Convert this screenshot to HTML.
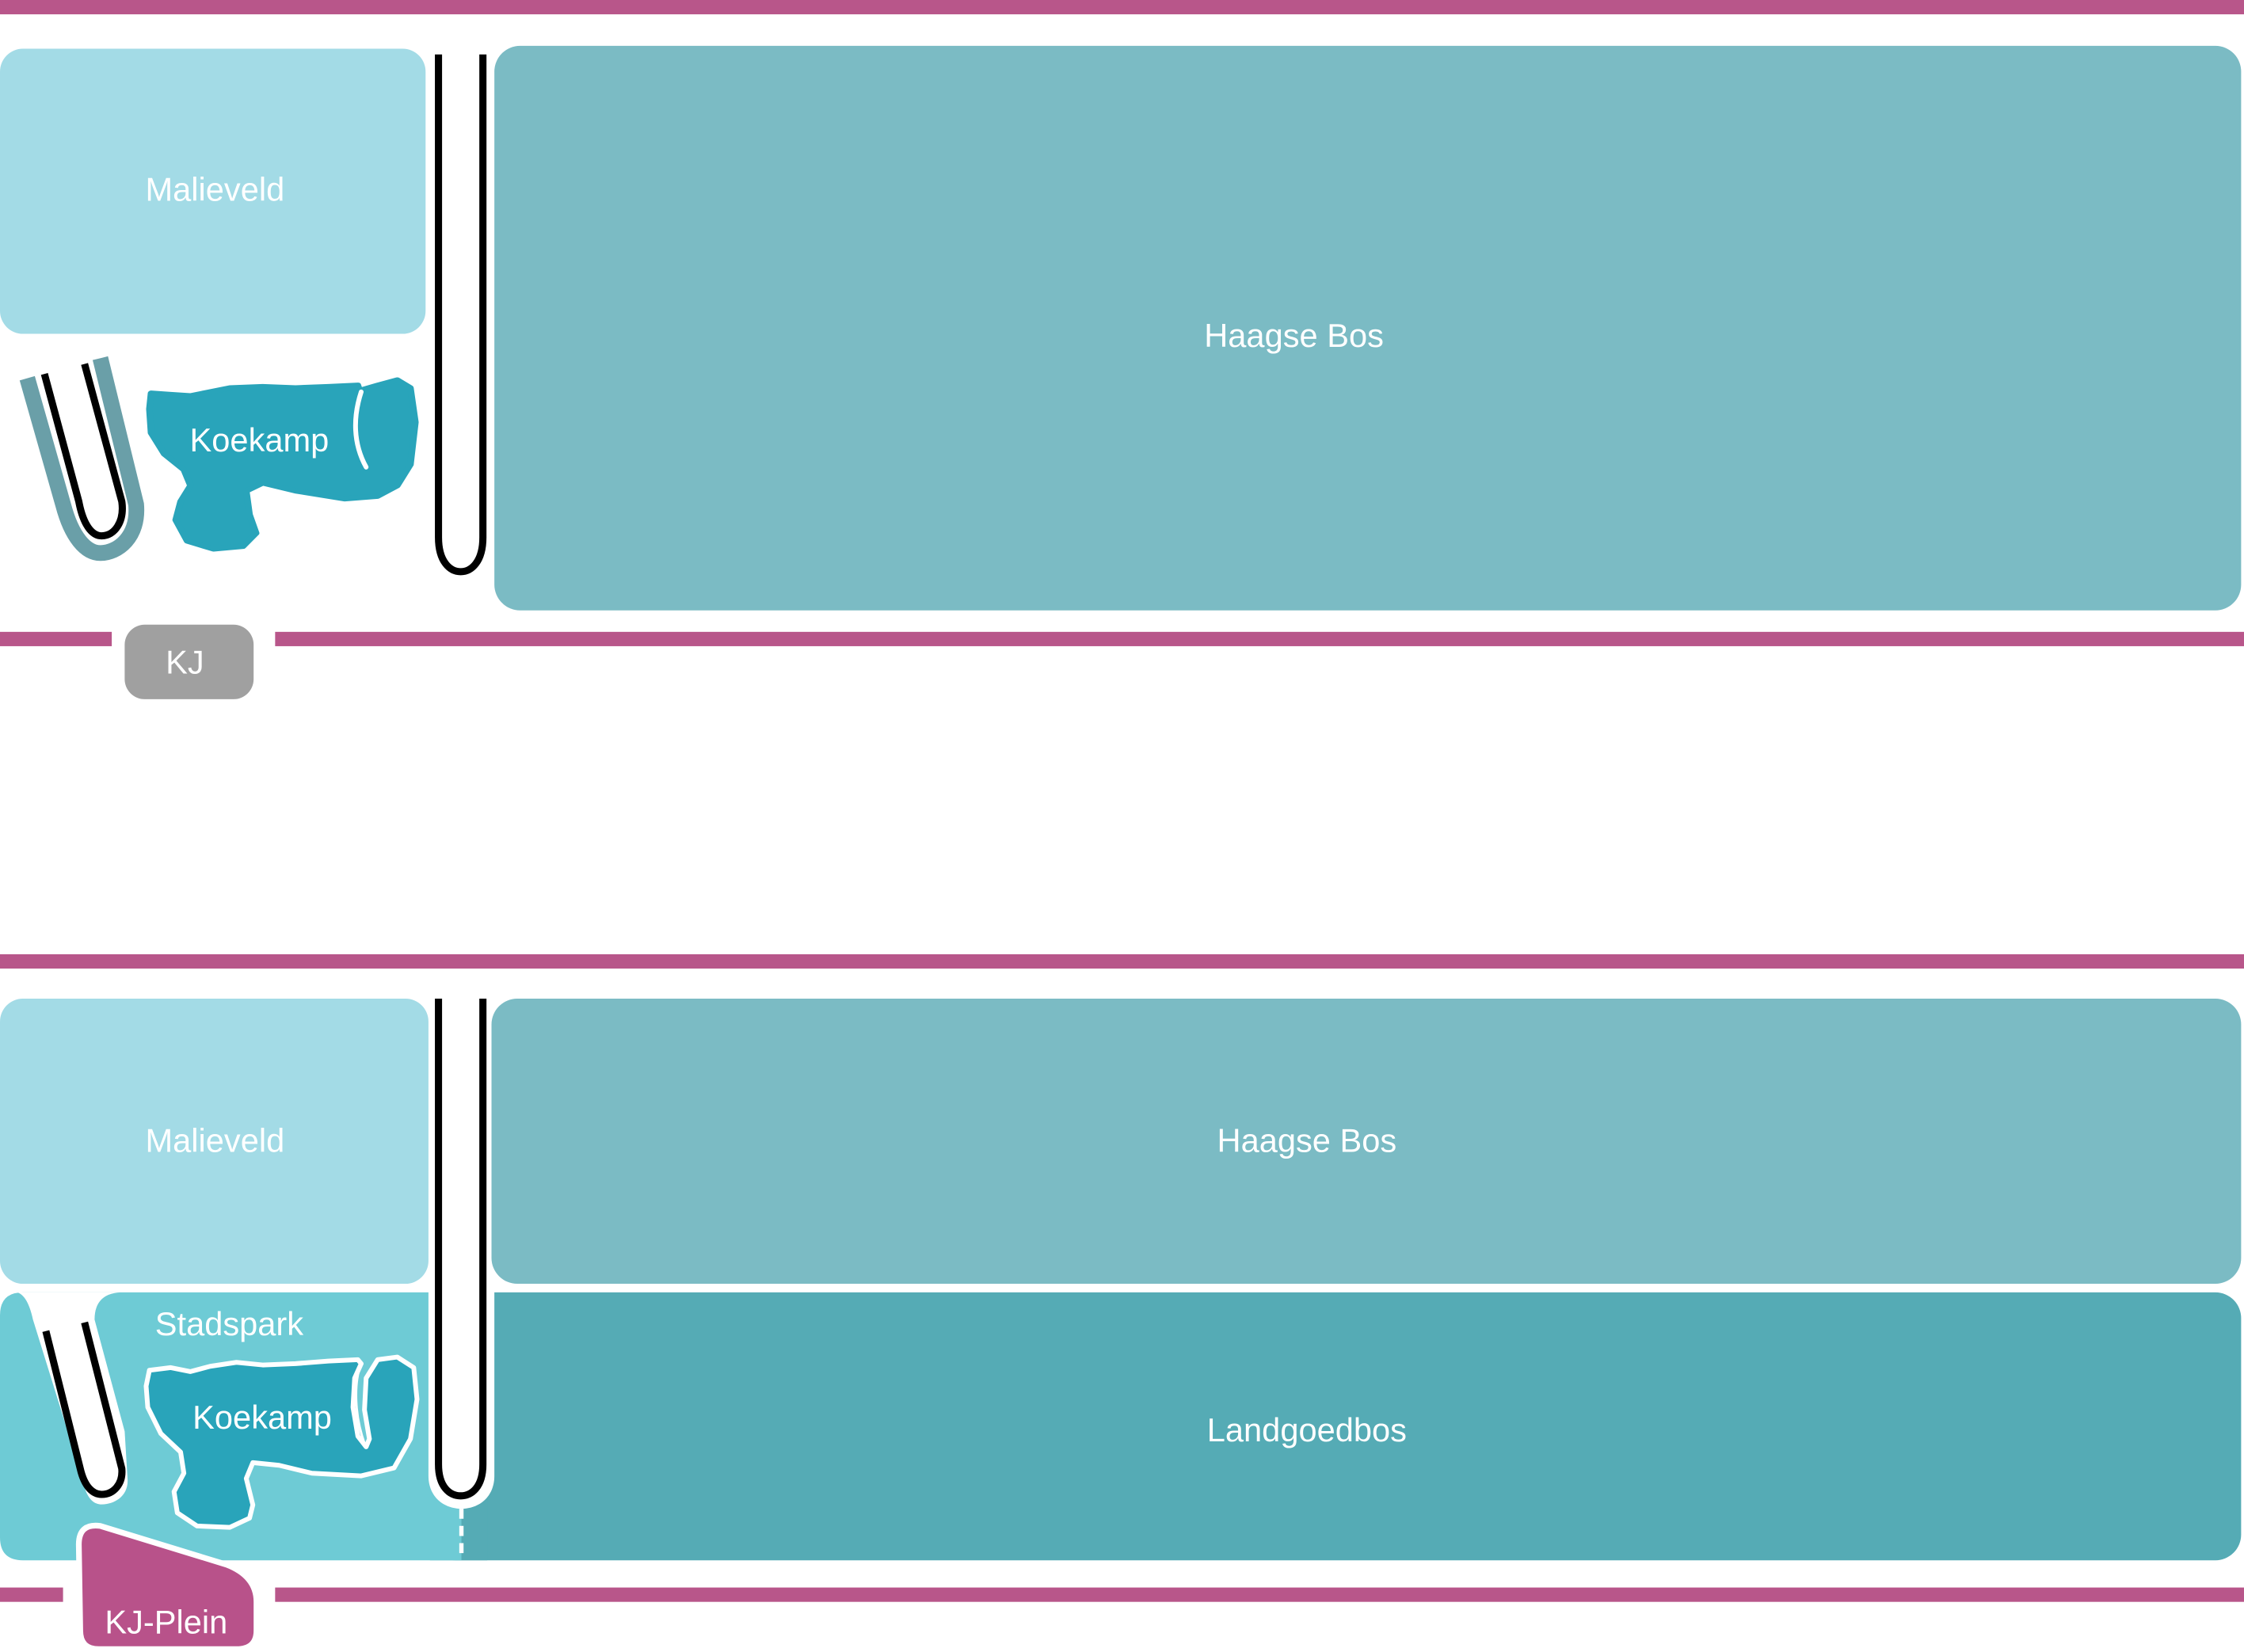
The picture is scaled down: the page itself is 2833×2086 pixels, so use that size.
<!DOCTYPE html>
<html><head><meta charset="utf-8"><style>
html,body{margin:0;padding:0;background:#fff;}
svg{display:block;}
text{font-family:"Liberation Sans",Arial,sans-serif;fill:#fff;text-anchor:middle;dominant-baseline:central;font-size:23px;}
</style></head><body>
<svg width="2833" height="2086" viewBox="0 0 1566 1153" preserveAspectRatio="none" xmlns="http://www.w3.org/2000/svg">
<rect x="0" y="0" width="1566" height="1153" fill="#fff"/>
<!-- TOP SECTION -->
<rect x="0" y="0" width="1566" height="10" fill="#b8568a"/>
<rect x="0" y="34" width="297" height="199" rx="16" fill="#a3dbe6"/>
<text x="150" y="132">Malieveld</text>
<rect x="345" y="32" width="1219" height="394" rx="18" fill="#7bbbc4"/>
<text x="903" y="234">Haagse Bos</text>
<path d="M306,38 V375 C306,392 314,399 321.5,399 C329,399 337,392 337,375 V38" fill="none" stroke="#000" stroke-width="5"/>
<path d="M19,264 L44,352 C50,375 60,386 70,386 C82,386 97,375 95,352 L70,250" fill="none" stroke="#6a9fa8" stroke-width="11"/>
<path d="M31,261 L55,350 C58,366 64,374 71,374 C80,374 87,364 85,350 L59,254" fill="none" stroke="#000" stroke-width="5"/>
<g transform="translate(0,221) scale(0.22915,0.18426)">
<polygon fill="#29a4ba" stroke="#29a4ba" stroke-linejoin="round" stroke-width="20" points="460,290 520,295 580,300 620,290 700,270 800,265 900,270 1000,265 1090,260 1095,280 1150,260 1210,240 1250,270 1265,400 1250,560 1210,640 1150,680 1050,690 900,660 800,630 750,660 760,750 780,820 740,870 650,880 570,850 535,770 550,700 580,640 560,580 500,520 460,440 455,350"/>
<path d="M1100,285 C1075,380 1075,480 1115,570" fill="none" stroke="#fff" stroke-width="6" vector-effect="non-scaling-stroke" stroke-linecap="round"/>
</g>
<text x="181" y="307">Koekamp</text>
<rect x="0" y="441" width="78" height="10" fill="#b8568a"/>
<rect x="192" y="441" width="1374" height="10" fill="#b8568a"/>
<rect x="87" y="436" width="90" height="52" rx="14" fill="#a0a0a0"/>
<text x="129" y="462">KJ</text>

<!-- BOTTOM SECTION -->
<rect x="0" y="666" width="1566" height="10" fill="#b8568a"/>
<rect x="0" y="697" width="299" height="199" rx="16" fill="#a3dbe6"/>
<text x="150" y="796">Malieveld</text>
<rect x="343" y="697" width="1221" height="199" rx="18" fill="#7bbbc4"/>
<text x="912" y="796">Haagse Bos</text>
<rect x="300" y="902" width="1264" height="187" rx="18" fill="#55abb5"/>
<rect x="300" y="902" width="40" height="187" fill="#55abb5"/>
<text x="912" y="998">Landgoedbos</text>
<path d="M16,902 H306 Q322,902 322,918 V1089 H16 Q0,1089 0,1073 V918 Q0,902 16,902 Z" fill="#6ecbd5"/>
<path d="M12,902 C18,904 21,912 23,921 L46,995 L60,1041 C63,1048 67,1050 71,1050 C80,1050 90,1044 89,1032 L87,999 L66,921 Q66,903 84,902 Z" fill="#fff"/>
<path d="M32,929 L56,1025 C59,1038 65,1043 71,1043 C79,1043 86,1036 85,1025 L59,923" fill="none" stroke="#000" stroke-width="5"/>
<path d="M299,896 H345 V1030 C345,1045 334,1053 322,1053 C310,1053 299,1045 299,1030 Z" fill="#fff"/>
<path d="M322,1053 V1089" stroke="#fff" stroke-width="3" stroke-dasharray="7,5"/>
<path d="M306,697 V1022 C306,1038 314,1044 321.5,1044 C329,1044 337,1038 337,1022 V697" fill="none" stroke="#000" stroke-width="5"/>
<g transform="translate(0,884.5) scale(0.22915,0.18426)">
<polygon fill="#29a4ba" stroke="#fff" stroke-linejoin="round" stroke-width="6" vector-effect="non-scaling-stroke" points="455,390 520,380 580,395 640,375 720,360 800,370 900,365 1000,355 1090,350 1100,365 1080,420 1075,530 1090,640 1115,680 1125,650 1110,540 1115,420 1150,350 1210,340 1260,380 1270,500 1250,650 1200,760 1100,790 950,780 850,750 770,740 750,800 770,900 760,950 700,985 600,980 540,930 530,850 560,780 550,700 490,630 450,530 445,450"/>
<path d="M1098,370 C1078,440 1078,560 1112,675" fill="none" stroke="#fff" stroke-width="3" vector-effect="non-scaling-stroke"/>
</g>
<text x="160" y="924">Stadspark</text>
<text x="183" y="989">Koekamp</text>
<rect x="0" y="1108" width="44" height="10" fill="#b8568a"/>
<rect x="192" y="1108" width="1374" height="10" fill="#b8568a"/>
<path d="M55,1078 Q55,1063 70,1065 L158,1092 Q179,1100 179,1118 V1138 Q179,1151 165,1151 H69 Q56,1151 56,1138 Z" fill="#b8528a" stroke="#fff" stroke-width="4" stroke-linejoin="round"/>
<text x="116" y="1132">KJ-Plein</text>
</svg>
</body></html>
